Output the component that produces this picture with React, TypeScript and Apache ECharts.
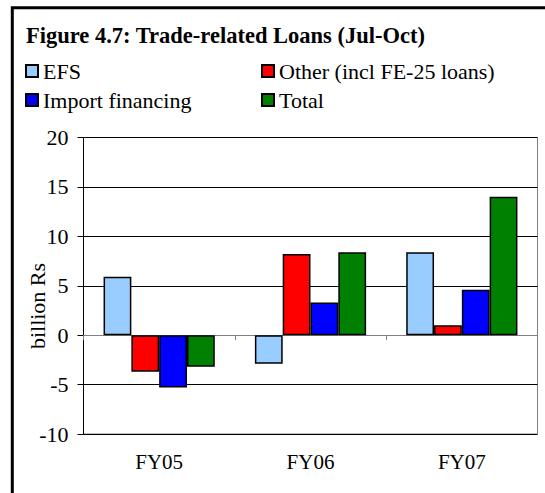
import React, { useEffect, useRef } from "react";
import * as echarts from "echarts";

const categories = ["FY05", "FY06", "FY07"];
const efs = [5.9, -2.9, 8.4];
const other = [-3.7, 8.2, 1.0];
const importFinancing = [-5.3, 3.3, 4.6];
const total = [-3.2, 8.4, 14.0];

const seriesNames = ["EFS", "Other (incl FE-25 loans)", "Import financing", "Total"];
const seriesColors = ["#99CCFF", "#FF0000", "#0000FF", "#008000"];
const seriesValues = [efs, other, importFinancing, total];

const titleText = "Figure 4.7: Trade-related Loans (Jul-Oct)";
const yAxisName = "billion Rs";

const FONT = "Liberation Serif, Times New Roman, serif";

export default function App() {
  const ref = useRef<HTMLDivElement>(null);

  useEffect(() => {
    if (!ref.current) return;
    const chart = echarts.init(ref.current, null, { renderer: "svg" });

    const legendBase = {
      orient: "vertical",
      top: 60,
      padding: 0,
      itemWidth: 12,
      itemHeight: 12,
      itemGap: 7,
      icon: "rect",
      textStyle: { fontFamily: FONT, fontSize: 22, color: "#000", lineHeight: 22 },
    };

    chart.setOption({
      animation: false,
      backgroundColor: "#fff",
      grid: {
        left: 83.5,
        right: 7.5,
        top: 137.5,
        bottom: 59,
        show: true,
        borderColor: "#808080",
        borderWidth: 1,
        backgroundColor: "transparent",
      },
      legend: [
        { ...legendBase, data: [seriesNames[0], seriesNames[2]], left: 25 },
        { ...legendBase, data: [seriesNames[1], seriesNames[3]], left: 261 },
      ],
      xAxis: [
        {
          // category labels sit below the plot
          type: "category",
          data: categories,
          position: "bottom",
          axisLine: { show: false, onZero: false },
          axisTick: { show: false },
          axisLabel: { fontFamily: FONT, fontSize: 21, color: "#000", margin: 17 },
          splitLine: { show: false },
        },
        {
          // zero line with category-boundary ticks
          type: "category",
          data: categories,
          position: "bottom",
          axisLine: { show: true, onZero: true, lineStyle: { color: "#808080", width: 1 } },
          axisTick: { show: true, length: 5, lineStyle: { color: "#808080", width: 1 } },
          axisLabel: { show: false },
          splitLine: { show: false },
        },
      ],
      yAxis: {
        type: "value",
        min: -10,
        max: 20,
        interval: 5,
        axisLine: { show: true, onZero: false, lineStyle: { color: "#000", width: 1 } },
        axisTick: { show: true, length: 6, lineStyle: { color: "#000", width: 1 } },
        axisLabel: { fontFamily: FONT, fontSize: 22, color: "#000", margin: 15 },
        splitLine: { show: true, lineStyle: { color: "#000", width: 1 } },
      },
      series: seriesNames.map((name, i) => ({
        name,
        type: "bar",
        xAxisIndex: 0,
        data: seriesValues[i],
        barGap: "0%",
        barCategoryGap: "26.5%",
        itemStyle: { color: seriesColors[i], borderColor: "#000", borderWidth: 1.5 },
      })),
      graphic: [
        {
          type: "rect",
          shape: { x: 12.3, y: 7.7, width: 700, height: 700 },
          style: { fill: "none", stroke: "#000", lineWidth: 3 },
          silent: true,
        },
        {
          type: "text",
          x: 26,
          y: 35,
          style: {
            text: titleText,
            fontFamily: FONT,
            fontSize: 22.5,
            fontWeight: "bold",
            fill: "#000",
            verticalAlign: "middle",
            align: "left",
          },
        },
        {
          type: "text",
          x: 37,
          y: 306,
          rotation: Math.PI / 2,
          style: {
            text: yAxisName,
            fontFamily: FONT,
            fontSize: 22,
            fill: "#000",
            verticalAlign: "middle",
            align: "center",
          },
        },
      ],
    });

    return () => chart.dispose();
  }, []);

  return (
    <div
      ref={ref}
      style={{ position: "absolute", left: 0, top: 0, width: 545, height: 493, background: "#fff" }}
    />
  );
}
